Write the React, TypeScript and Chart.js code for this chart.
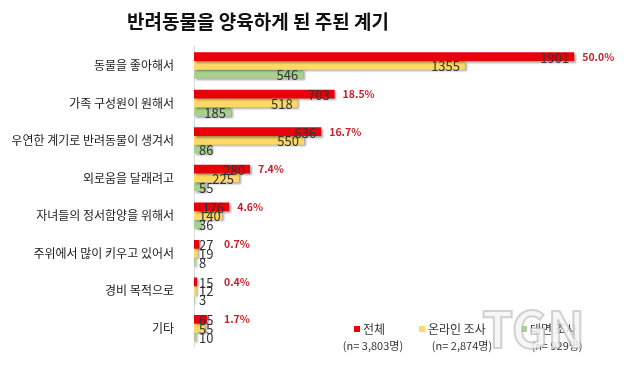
import React, { useEffect, useRef } from "react";
import { Chart, registerables } from "chart.js";

Chart.register(...registerables);

const chartTitle = "반려동물을 양육하게 된 주된 계기";
const categories = [
  "동물을 좋아해서",
  "가족 구성원이 원해서",
  "우연한 계기로 반려동물이 생겨서",
  "외로움을 달래려고",
  "자녀들의 정서함양을 위해서",
  "주위에서 많이 키우고 있어서",
  "경비 목적으로",
  "기타",
];
const totalValues = [1901, 703, 636, 280, 176, 27, 15, 65];
const onlineValues = [1355, 518, 550, 225, 140, 19, 12, 55];
const faceValues = [546, 185, 86, 55, 36, 8, 3, 10];
const totalPercents = ["50.0%", "18.5%", "16.7%", "7.4%", "4.6%", "0.7%", "0.4%", "1.7%"];
const seriesNames = ["전체", "온라인 조사", "대면 조사"];
const sampleSizes = ["(n= 3,803명)", "(n= 2,874명)", "(n= 929명)"];
const seriesColors = ["#E8000B", "#FFD966", "#A9D08E"];

const KR = '"Noto Sans CJK KR", "Noto Sans", sans-serif';

const shadowPlugin = {
  id: "barShadow",
  beforeDatasetDraw(chart: any) {
    const ctx = chart.ctx;
    ctx.save();
    ctx.shadowColor = "rgba(0,0,0,0.35)";
    ctx.shadowOffsetX = 1.5;
    ctx.shadowOffsetY = 1.5;
    ctx.shadowBlur = 2;
  },
  afterDatasetDraw(chart: any) {
    chart.ctx.restore();
  },
};

const labelPlugin = {
  id: "valueLabels",
  afterDatasetsDraw(chart: any) {
    const ctx = chart.ctx;
    const left = chart.chartArea.left;
    ctx.save();
    ctx.textBaseline = "middle";
    chart.data.datasets.forEach((ds: any, di: number) => {
      const meta = chart.getDatasetMeta(di);
      meta.data.forEach((bar: any, i: number) => {
        const txt = String(ds.data[i]);
        ctx.font = `13px ${KR}`;
        ctx.fillStyle = "#333333";
        ctx.textAlign = "right";
        const w = ctx.measureText(txt).width;
        const xr = Math.max(bar.x - 5, left + 5 + w);
        ctx.fillText(txt, xr, bar.y + 1);
        if (di === 0) {
          ctx.font = `bold 10.5px ${KR}`;
          ctx.fillStyle = "#C8202A";
          ctx.textAlign = "left";
          const px = Math.max(bar.x + 8, left + 30);
          ctx.fillText(totalPercents[i], px, bar.y);
        }
      });
    });
    ctx.restore();
  },
};

const decorPlugin = {
  id: "decor",
  afterDraw(chart: any) {
    const ctx = chart.ctx;
    ctx.save();
    // title
    ctx.font = `bold 19px ${KR}`;
    ctx.fillStyle = "#111111";
    ctx.textAlign = "center";
    ctx.textBaseline = "middle";
    ctx.fillText(chartTitle, 258, 22);
    // legend
    const sx = [354, 419, 521];
    const nx = [373, 462, 557];
    seriesNames.forEach((name, i) => {
      ctx.fillStyle = seriesColors[i];
      ctx.fillRect(sx[i], 326, 6, 6);
      ctx.fillStyle = "#333333";
      ctx.font = `12px ${KR}`;
      ctx.textAlign = "left";
      ctx.fillText(name, sx[i] + 9, 329);
      ctx.font = `11px ${KR}`;
      ctx.textAlign = "center";
      ctx.fillText(sampleSizes[i], nx[i], 346);
    });
    // watermark
    ctx.font = `bold 50px ${KR}`;
    ctx.textAlign = "left";
    ctx.textBaseline = "alphabetic";
    ctx.fillStyle = "rgba(245,245,245,0.85)";
    ctx.strokeStyle = "rgba(170,170,170,0.5)";
    ctx.lineWidth = 2;
    ctx.fillText("TGN", 482, 348);
    ctx.strokeText("TGN", 482, 348);
    ctx.restore();
  },
};

export default function App() {
  const ref = useRef<HTMLCanvasElement>(null);
  useEffect(() => {
    if (!ref.current) return;
    const chart = new Chart(ref.current, {
      type: "bar",
      data: {
        labels: categories,
        datasets: [
          { label: seriesNames[0], data: totalValues, backgroundColor: seriesColors[0] },
          { label: seriesNames[1], data: onlineValues, backgroundColor: seriesColors[1] },
          { label: seriesNames[2], data: faceValues, backgroundColor: seriesColors[2] },
        ],
      },
      options: {
        indexAxis: "y",
        animation: false,
        responsive: false,
        layout: { padding: { top: 46.7, bottom: 10, right: 6, left: 0 } },
        datasets: { bar: { barPercentage: 1, categoryPercentage: 0.7 } },
        plugins: { legend: { display: false }, tooltip: { enabled: false }, title: { display: false } },
        scales: {
          x: { display: false, min: 0, max: 2130 },
          y: {
            grid: { display: false },
            border: { display: true, color: "#D9D9D9", width: 1 },
            ticks: { color: "#1A1A1A", font: { family: KR, size: 12 }, padding: 12 },
            afterFit(scale: any) {
              scale.width = 194;
            },
          },
        },
      } as any,
      plugins: [shadowPlugin, labelPlugin, decorPlugin],
    });
    return () => chart.destroy();
  }, []);
  return (
    <div style={{ position: "fixed", left: 0, top: 0, width: 626, height: 366, background: "#fff" }}>
      <canvas ref={ref} width={626} height={366} />
    </div>
  );
}
